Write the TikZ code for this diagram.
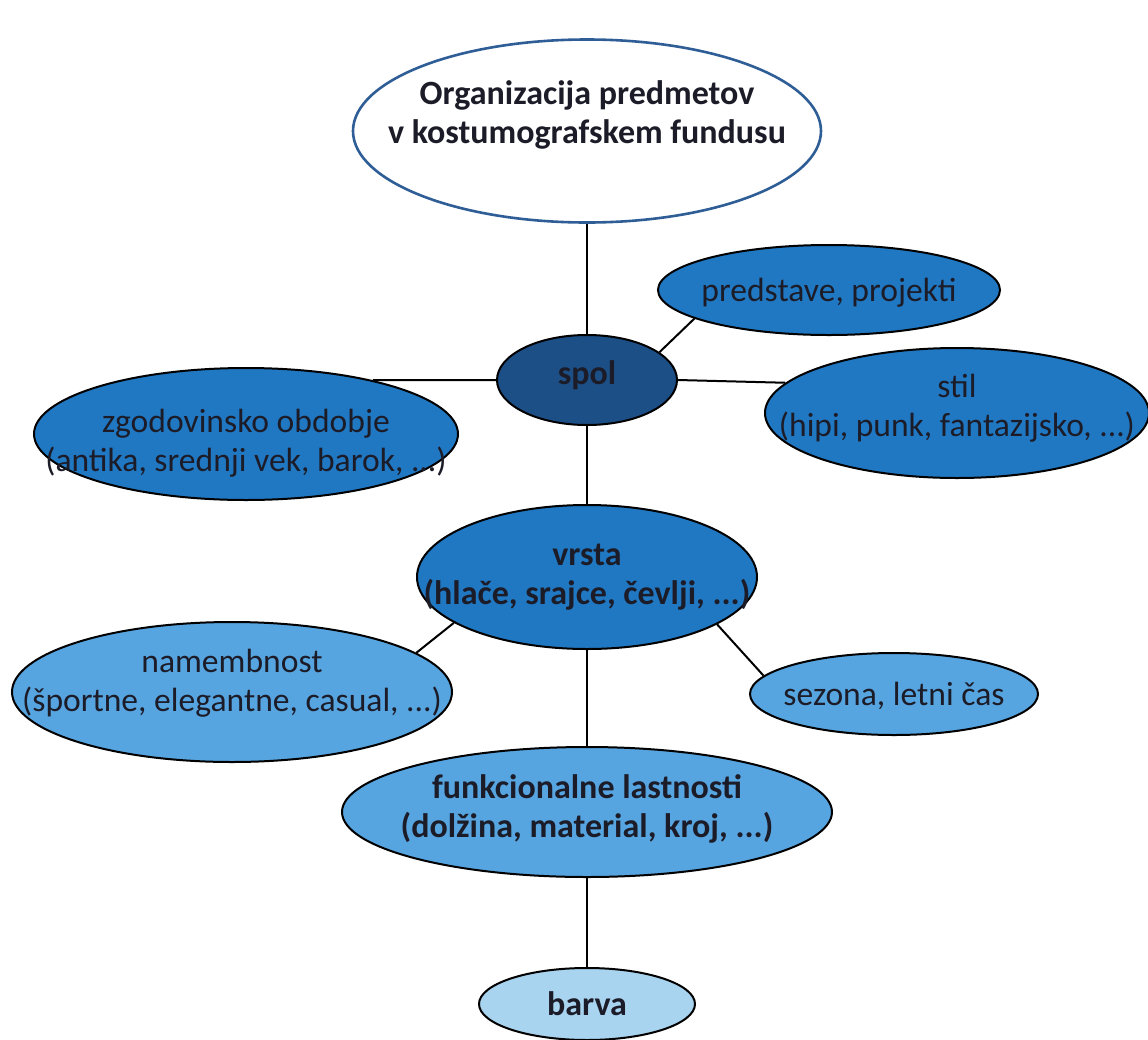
\documentclass[tikz,border=0pt]{standalone}
\usepackage{fontspec}
\setmainfont{Carlito}
\usepackage{tikz}
\usetikzlibrary{shapes,arrows}
\usetikzlibrary{positioning}
\definecolor{orgline}{HTML}{2F5E97}
\definecolor{darkblue}{HTML}{1D4F87}
\definecolor{midblue}{HTML}{2178C2}
\definecolor{lightblue}{HTML}{57A5E0}
\definecolor{paleblue}{HTML}{A8D4F0}
\definecolor{txtcol}{HTML}{1C1C28}
% text that does not widen the ellipse
\newcommand\ovaltext[2][-6.25pt]{\raisebox{#1}[0pt][0pt]{\makebox[0pt]{\begin{tabular}{@{}c@{}}#2\end{tabular}}}}
\tikzstyle{bubble} = [draw, ellipse, fill=midblue, line width=1pt, inner sep=0pt,
    text=txtcol, font=\fontsize{16.8}{19.5}\selectfont]
\tikzstyle{strong} = [font=\fontsize{17}{19.5}\selectfont\bfseries]
\tikzstyle{link} = [line width=1pt]

\begin{document}
\begin{tikzpicture}[x=0.5pt, y=-0.5pt, node distance = 3cm, auto]
  \useasboundingbox (0,0) rectangle (1148,1040);
  % spine
  \node [bubble, strong, fill=white, draw=orgline, line width=1.3pt,
    minimum width=234pt, minimum height=91.5pt] (org) at (587,131)
    {\ovaltext[3.25pt]{Organizacija predmetov\\v kostumografskem fundusu}};
  \node [bubble, strong, fill=darkblue, below of=org, node distance=124.5pt,
    minimum width=90pt, minimum height=45pt] (spol) {\ovaltext[-2.75pt]{spol}};
  \node [bubble, strong, below of=spol, node distance=98.5pt,
    minimum width=170pt, minimum height=72pt] (vrsta) {\ovaltext[-4.25pt]{vrsta\\(hlače, srajce, čevlji, ...)}};
  \node [bubble, strong, fill=lightblue, below of=vrsta, node distance=117.5pt,
    minimum width=245pt, minimum height=65pt] (funk) {\ovaltext[-3.25pt]{funkcionalne lastnosti\\(dolžina, material, kroj, ...)}};
  \node [bubble, strong, fill=paleblue, below of=funk, node distance=96pt,
    minimum width=108pt, minimum height=36pt] (barva) {\ovaltext{barva}};
  % branches
  \node [bubble, minimum width=171pt, minimum height=45pt] (pred) at (829,290) {\ovaltext{predstave, projekti}};
  \node [bubble, minimum width=192pt, minimum height=65pt] (stil) at (957,413) {\ovaltext[-2.25pt]{stil\\(hipi, punk, fantazijsko, ...)}};
  \node [bubble, minimum width=212pt, minimum height=66pt] (zgod) at (246,434) {\ovaltext[-9.5pt]{zgodovinsko obdobje\\(antika, srednji vek, barok, ...)}};
  \node [bubble, fill=lightblue, minimum width=220pt, minimum height=70pt] (namen) at (232,692) {\ovaltext[-0.25pt]{namembnost\\(športne, elegantne, casual, ...)}};
  \node [bubble, fill=lightblue, minimum width=144pt, minimum height=41pt] (sezona) at (894,694) {\ovaltext{sezona, letni čas}};

  \draw [link] (org) -- (spol);
  \draw [link] (spol) -- (vrsta);
  \draw [link] (vrsta) -- (funk);
  \draw [link] (funk) -- (barva);
  \draw [link] (spol.21) -- (pred.192);
  \draw [link] (spol.east) -- (stil.170);
  \draw [link] (spol.west) -- (zgod.23);
  \draw [link] (vrsta.199) -- (namen.12);
  \draw [link] (vrsta.340) -- (sezona.172);
\end{tikzpicture}
\end{document}
